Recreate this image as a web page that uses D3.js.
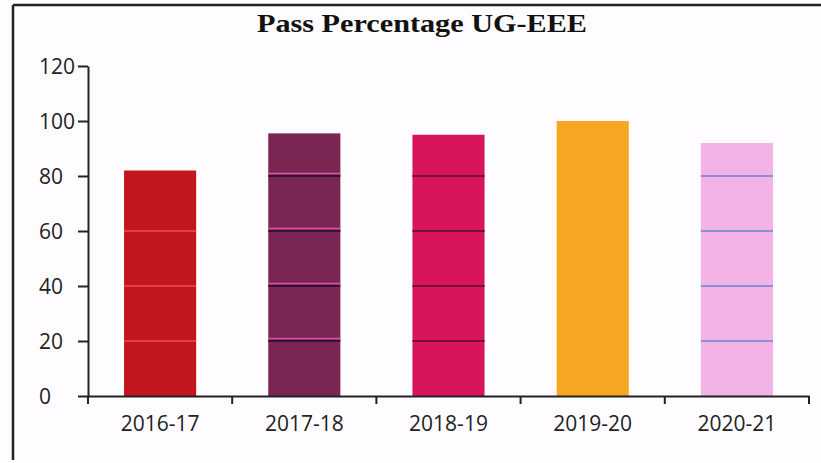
<!DOCTYPE html>
<html>
<head>
<meta charset="utf-8">
<script src="https://cdn.jsdelivr.net/npm/d3@7"></script>
<style>
  html, body { margin: 0; padding: 0; background: #fefcfe; }
  svg { display: block; }
</style>
</head>
<body>
<svg id="chart" width="821" height="463"></svg>
<script>
const categories = ["2016-17", "2017-18", "2018-19", "2019-20", "2020-21"];
const passPercent = [82, 95.5, 95, 100, 92];
const barColors = ["#c3151d", "#7b2552", "#d8145a", "#f5a623", "#f2b3e6"];
const stripeColors = ["#ea3a44", "#2b1640", "#6e0f3e", null, "#8a8fd8"];
const stripeHighlight = [null, "#e5509a", null, null, null];
const yTicks = [0, 20, 40, 60, 80, 100, 120];
const gridValues = [20, 40, 60, 80];
const title = "Pass Percentage UG-EEE";

const svg = d3.select("#chart");
const W = 821, H = 463;
const m = { left: 88, right: 12, top: 66, bottom: 67 };

const x = d3.scaleBand().domain(categories).range([m.left, W - m.right]).paddingInner(0.5).paddingOuter(0.25);
const y = d3.scaleLinear().domain([0, 120]).range([H - m.bottom, m.top]);

// outer frame (top and left)
svg.append("line").attr("x1", 13).attr("x2", W).attr("y1", 5).attr("y2", 5)
  .attr("stroke", "#222").attr("stroke-width", 2.5);
svg.append("line").attr("x1", 13).attr("x2", 13).attr("y1", 5).attr("y2", 460)
  .attr("stroke", "#222").attr("stroke-width", 2.5);

// title
const t = svg.append("text").attr("x", 422).attr("y", 32).attr("text-anchor", "middle")
  .attr("font-family", "'Liberation Serif', 'Times New Roman', serif")
  .attr("font-weight", "bold").attr("font-size", 26).attr("fill", "#111")
  .text(title);
t.attr("textLength", 330).attr("lengthAdjust", "spacingAndGlyphs");

// bars
const bars = svg.append("g");
categories.forEach((c, i) => {
  const v = passPercent[i];
  bars.append("rect")
    .attr("x", x(c)).attr("width", x.bandwidth())
    .attr("y", y(v)).attr("height", y(0) - y(v))
    .attr("fill", barColors[i]);
  if (stripeColors[i]) {
    gridValues.filter(g => v - g > 4).forEach(g => {
      if (stripeHighlight[i]) {
        bars.append("line").attr("x1", x(c)).attr("x2", x(c) + x.bandwidth())
          .attr("y1", y(g) - 2.5).attr("y2", y(g) - 2.5)
          .attr("stroke", stripeHighlight[i]).attr("stroke-width", 1.5);
      }
      bars.append("line").attr("x1", x(c)).attr("x2", x(c) + x.bandwidth())
        .attr("y1", y(g)).attr("y2", y(g))
        .attr("stroke", stripeColors[i]).attr("stroke-width", 2);
    });
  }
});

// y axis
const yAxis = svg.append("g").attr("transform", `translate(${m.left},0)`)
  .call(d3.axisLeft(y).tickValues(yTicks).tickSize(10).tickSizeOuter(0).tickFormat(d3.format("d")));
yAxis.select(".domain").attr("stroke", "#222").attr("stroke-width", 2);
yAxis.selectAll(".tick line").attr("stroke", "#222").attr("stroke-width", 2);
yAxis.selectAll(".tick text")
  .attr("font-family", "'Open Sans', 'Liberation Sans', sans-serif")
  .attr("font-size", 21).attr("fill", "#222")
  .attr("text-anchor", "start").attr("x", 39 - m.left).attr("dy", "0.35em");

// x axis
const xAxis = svg.append("g").attr("transform", `translate(0,${y(0)})`)
  .call(d3.axisBottom(x).tickSize(0).tickSizeOuter(0));
xAxis.select(".domain").attr("stroke", "#222").attr("stroke-width", 2);
xAxis.selectAll(".tick text")
  .attr("font-family", "'Open Sans', 'Liberation Sans', sans-serif")
  .attr("font-size", 21).attr("fill", "#222").attr("y", 20).attr("dy", "0.71em");
// category separator ticks
const step = x.step();
const bounds = d3.range(categories.length + 1).map(k => x(categories[0]) - x.paddingOuter() * step + k * step - (x.paddingInner() * step) / 2 + x.paddingInner() * step / 2);
svg.append("g").selectAll("line").data(bounds).join("line")
  .attr("x1", d => d).attr("x2", d => d)
  .attr("y1", y(0)).attr("y2", y(0) + 8)
  .attr("stroke", "#222").attr("stroke-width", 2);
</script>
</body>
</html>
